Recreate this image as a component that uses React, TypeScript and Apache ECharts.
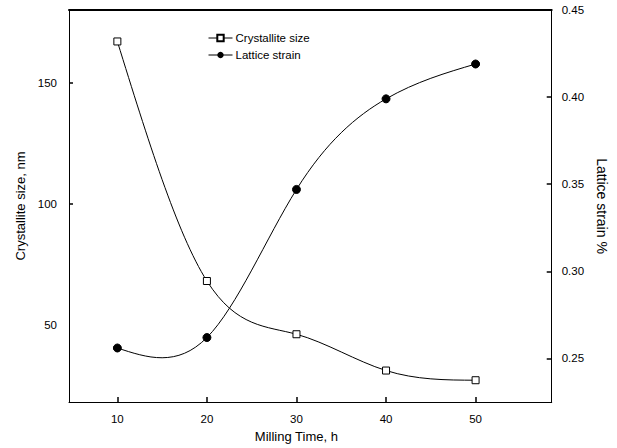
import React, { useEffect, useRef } from "react";
import * as echarts from "echarts";

// Milling time (h)
const millingTime = [10, 20, 30, 40, 50];
// Crystallite size (nm)
const crystalliteSize = [167, 68, 46, 31, 27];
// Lattice strain (%)
const latticeStrain = [0.256, 0.262, 0.347, 0.399, 0.419];

const xTicks = [10, 20, 30, 40, 50];
const leftLabels = [50, 100, 150];
const leftTicks = [100, 150];
const rightTicks = [0.25, 0.3, 0.35, 0.4, 0.45];

const FONT = "Liberation Sans, Arial, sans-serif";

type Pt = [number, number];

// Natural cubic spline through pixel points, returned as cubic Bezier segments.
function splineSegments(pts: Pt[]) {
  const n = pts.length;
  const h: number[] = [];
  for (let i = 0; i < n - 1; i++) h.push(pts[i + 1][0] - pts[i][0]);
  const M = new Array(n).fill(0);
  if (n > 2) {
    const a: number[] = [], b: number[] = [], c: number[] = [], d: number[] = [];
    for (let i = 1; i < n - 1; i++) {
      a.push(h[i - 1]);
      b.push(2 * (h[i - 1] + h[i]));
      c.push(h[i]);
      d.push(
        6 * ((pts[i + 1][1] - pts[i][1]) / h[i] - (pts[i][1] - pts[i - 1][1]) / h[i - 1])
      );
    }
    const m = b.length;
    for (let i = 1; i < m; i++) {
      const w = a[i] / b[i - 1];
      b[i] -= w * c[i - 1];
      d[i] -= w * d[i - 1];
    }
    const sol = new Array(m).fill(0);
    sol[m - 1] = d[m - 1] / b[m - 1];
    for (let i = m - 2; i >= 0; i--) sol[i] = (d[i] - c[i] * sol[i + 1]) / b[i];
    for (let i = 0; i < m; i++) M[i + 1] = sol[i];
  }
  const segs = [];
  for (let i = 0; i < n - 1; i++) {
    const [x0, y0] = pts[i];
    const [x1, y1] = pts[i + 1];
    const hi = h[i];
    const slope = (y1 - y0) / hi;
    const d0 = slope - (hi * (2 * M[i] + M[i + 1])) / 6;
    const d1 = slope + (hi * (M[i] + 2 * M[i + 1])) / 6;
    segs.push({
      x1: x0,
      y1: y0,
      cpx1: x0 + hi / 3,
      cpy1: y0 + (d0 * hi) / 3,
      cpx2: x1 - hi / 3,
      cpy2: y1 - (d1 * hi) / 3,
      x2: x1,
      y2: y1,
    });
  }
  return segs;
}

function curveSeries(values: number[], yAxisIndex: number) {
  return {
    type: "custom",
    xAxisIndex: 0,
    yAxisIndex,
    silent: true,
    z: 2,
    data: [[millingTime[0], values[0]]],
    renderItem: (_params: any, api: any) => {
      const pts = millingTime.map((t, i) => api.coord([t, values[i]]) as Pt);
      return {
        type: "group",
        children: splineSegments(pts).map((s) => ({
          type: "bezierCurve",
          shape: s,
          style: { stroke: "#000", fill: "none", lineWidth: 1 },
        })),
      };
    },
  };
}

export default function App() {
  const ref = useRef<HTMLDivElement>(null);

  useEffect(() => {
    if (!ref.current) return;
    const chart = echarts.init(ref.current, null, { renderer: "svg" });
    const axisLine = { show: true, lineStyle: { color: "#000", width: 1 } };
    const labelStyle = { color: "#000", fontFamily: FONT, fontSize: 11.5 };

    chart.setOption({
      animation: false,
      backgroundColor: "#fff",
      grid: { left: 69, right: 56, top: 10, bottom: 45, containLabel: false },
      legend: {
        orient: "vertical",
        left: 203,
        top: 27,
        itemWidth: 24,
        itemHeight: 8,
        itemGap: 5,
        lineStyle: { color: "#000", width: 1, opacity: 1 },
        textStyle: { color: "#000", fontFamily: FONT, fontSize: 11.5, padding: [0, 0, 0, -2] },
        data: ["Crystallite size", "Lattice strain"],
      },
      xAxis: [
        {
          type: "value",
          min: 4.6,
          max: 58.5,
          position: "bottom",
          name: "Milling Time, h",
          nameLocation: "middle",
          nameGap: 28,
          nameTextStyle: { color: "#000", fontFamily: FONT, fontSize: 13, padding: [0, 28, 0, 0] },
          axisLine,
          axisTick: { show: true, inside: true, length: 5, customValues: xTicks, lineStyle: { color: "#000", width: 1.5 } },
          axisLabel: { ...labelStyle, margin: 11, customValues: xTicks },
          splitLine: { show: false },
        },
        {
          type: "value",
          min: 4.6,
          max: 58.5,
          position: "top",
          axisLine: { show: true, lineStyle: { color: "#000", width: 2 } },
          axisTick: { show: false },
          axisLabel: { show: false },
          splitLine: { show: false },
        },
      ],
      yAxis: [
        {
          type: "value",
          min: 18,
          max: 180,
          position: "left",
          name: "Crystallite size, nm",
          nameLocation: "middle",
          nameGap: 42,
          nameTextStyle: { color: "#000", fontFamily: FONT, fontSize: 13, padding: [0, 0, 0, 0] },
          axisLine,
          axisTick: { show: true, inside: true, length: 4, customValues: leftTicks, lineStyle: { color: "#000", width: 1.5 } },
          axisLabel: { ...labelStyle, margin: 12, customValues: leftLabels },
          splitLine: { show: false },
        },
        {
          type: "value",
          min: 0.225,
          max: 0.45,
          position: "right",
          name: "Lattice strain %",
          nameLocation: "middle",
          nameRotate: -90,
          nameGap: 33,
          nameTextStyle: { color: "#000", fontFamily: FONT, fontSize: 14 },
          axisLine,
          axisTick: { show: true, inside: true, length: 5, customValues: rightTicks, lineStyle: { color: "#000", width: 1.5 } },
          axisLabel: {
            ...labelStyle,
            margin: 10,
            customValues: rightTicks,
            formatter: (v: number) => v.toFixed(2),
          },
          splitLine: { show: false },
        },
      ],
      series: [
        curveSeries(crystalliteSize, 0),
        curveSeries(latticeStrain, 1),
        {
          name: "Crystallite size",
          type: "line",
          xAxisIndex: 0,
          yAxisIndex: 0,
          data: millingTime.map((t, i) => [t, crystalliteSize[i]]),
          symbol: "rect",
          symbolSize: 7,
          itemStyle: { color: "#fff", borderColor: "#000", borderWidth: 1 },
          lineStyle: { color: "#000", width: 1, opacity: 0 },
          z: 3,
        },
        {
          name: "Lattice strain",
          type: "line",
          xAxisIndex: 0,
          yAxisIndex: 1,
          data: millingTime.map((t, i) => [t, latticeStrain[i]]),
          symbol: "circle",
          symbolSize: 8,
          itemStyle: { color: "#000", borderColor: "#000" },
          lineStyle: { color: "#000", width: 1, opacity: 0 },
          z: 3,
        },
      ],
    });
    return () => chart.dispose();
  }, []);

  return <div ref={ref} style={{ width: 617, height: 448, position: "absolute", left: 0, top: 0 }} />;
}
